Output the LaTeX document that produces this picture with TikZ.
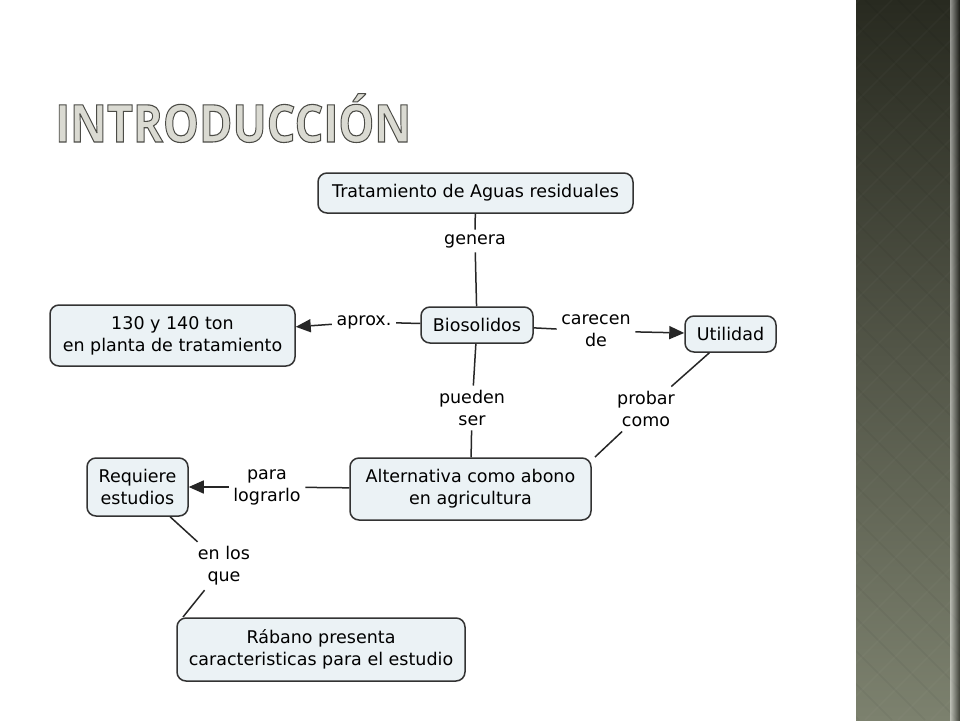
\documentclass[tikz,border=0pt]{standalone}
\usepackage{fontspec}
\setmainfont{DejaVu Sans}
\newfontfamily\titlefont{Open Sans}
\usetikzlibrary{arrows.meta}
\definecolor{boxfill}{HTML}{EBF2F5}
\definecolor{boxline}{HTML}{333333}
\definecolor{stripA}{HTML}{282A20}
\definecolor{stripB}{HTML}{535648}
\definecolor{stripC}{HTML}{7C816E}
\definecolor{titlefill}{HTML}{DADAD2}
\tikzset{
  concept/.style={draw=boxline, line width=1.5pt, fill=boxfill, rounded corners=9pt,
    align=center, font=\fontsize{17.5}{22}\selectfont, inner sep=0pt},
  linklabel/.style={align=center, font=\fontsize{17.5}{22}\selectfont, inner sep=4.5pt},
  conn/.style={line width=1.5pt, draw=black!85},
  arrowconn/.style={conn, -{Triangle[length=15pt,width=13pt]}},
  titletext/.style={font=\titlefont\bfseries\fontsize{52}{56}\selectfont, anchor=base west,
    inner sep=0pt, transform shape, xscale=0.87}
}
\begin{document}
\begin{tikzpicture}[x=1pt,y=-1pt]
\useasboundingbox (0,0) rectangle (960,720);
\fill[white] (0,0) rectangle (960,720);

% right decorative strip
\begin{scope}
\clip (856,0) rectangle (960,720);
\shade[top color=stripA, bottom color=stripC, middle color=stripB] (856,0) rectangle (960,720);
\foreach \k in {100,133,...,1700} {
  \draw[white, opacity=0.025, line width=1.5pt] ({\k},0) -- ({\k-720},720);
  \draw[black, opacity=0.035, line width=1.5pt] ({\k-720},0) -- ({\k},720);
}
\shade[left color=black!0, right color=black, opacity=0.5] (950,0) rectangle (960,720);
\end{scope}

% title
\node[titletext, text=titlefill] (title) at (55,142)
  {\special{pdf:literal direct 2 Tr 1.1 w 0.30 0.30 0.28 RG}INTRODUCCIÓN\special{pdf:literal direct 0 Tr}};

% concepts
\node[concept, minimum width=315pt, minimum height=40pt] (trat) at (475.5,193) {Tratamiento de Aguas residuales};
\node[concept, minimum width=112pt, minimum height=36pt] (bio) at (477,325) {Biosolidos};
\node[concept, minimum width=245pt, minimum height=61pt] (ton) at (172.5,335.5) {130 y 140 ton\\en planta de tratamiento};
\node[concept, minimum width=91pt, minimum height=36pt] (util) at (730.5,334) {Utilidad};
\node[concept, minimum width=241pt, minimum height=62pt] (alt) at (470.5,489) {Alternativa como abono\\en agricultura};
\node[concept, minimum width=101pt, minimum height=58pt] (req) at (137.5,487) {Requiere\\estudios};
\node[concept, minimum width=288pt, minimum height=63pt] (rab) at (321,649.5) {Rábano presenta\\caracteristicas para el estudio};

% linking phrases
\node[linklabel] (gen) at (475,241) {genera};
\node[linklabel] (apr) at (364,322) {aprox.};
\node[linklabel] (car) at (596,331) {carecen\\de};
\node[linklabel] (pue) at (472,408) {pueden\\ser};
\node[linklabel] (pro) at (646,409) {probar\\como};
\node[linklabel] (par) at (267,487) {para\\lograrlo};
\node[linklabel] (enl) at (224,566) {en los\\que};
\coordinate (altcorner) at (595,457);
\coordinate (rabcorner) at (183,617);

% connectors
\draw[conn] (trat) -- (gen);
\draw[conn] (gen) -- (bio);
\draw[conn] (bio) -- (apr);
\draw[arrowconn] (apr) -- (ton);
\draw[conn] (bio) -- (car);
\draw[arrowconn] (car) -- (util);
\draw[conn] (bio) -- (pue);
\draw[conn] (pue) -- (alt);
\draw[conn] (util) -- (pro);
\draw[conn] (pro) -- (altcorner);
\draw[conn] (alt) -- (par);
\draw[arrowconn] (par) -- (req);
\draw[conn] (req) -- (enl);
\draw[conn] (enl) -- (rabcorner);
\end{tikzpicture}
\end{document}
